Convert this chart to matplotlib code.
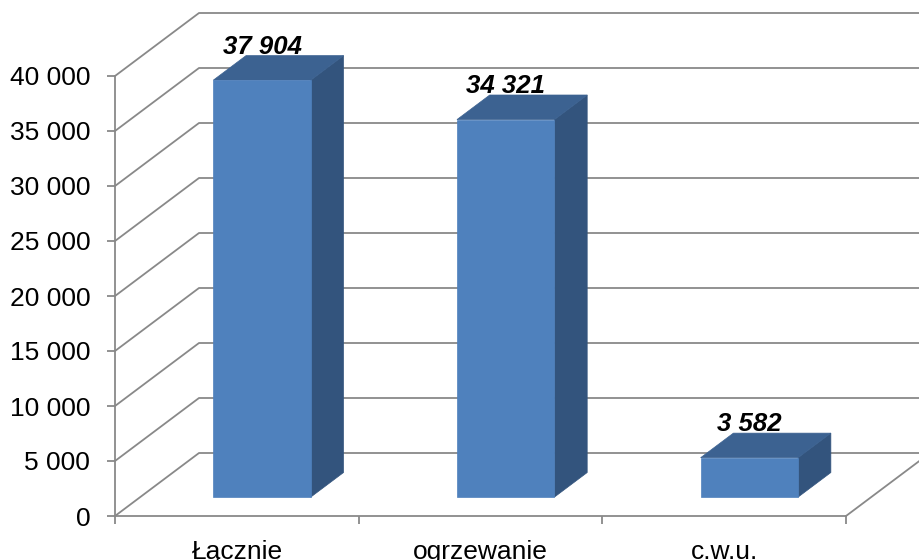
import matplotlib
matplotlib.use('Agg')
import matplotlib.pyplot as plt
from matplotlib.patches import Polygon
from matplotlib.lines import Line2D
from matplotlib.transforms import IdentityTransform
import numpy as np

categories = ['Łącznie', 'ogrzewanie', 'c.w.u.']
values = [37904, 34321, 3582]
y_ticks = [0, 5000, 10000, 15000, 20000, 25000, 30000, 35000, 40000]


def fmt(v):
    return f"{v:,}".replace(",", " ")


plt.rcParams['font.family'] = ['Liberation Sans', 'DejaVu Sans']

W, H = 920, 560
fig = plt.figure(figsize=(W / 100, H / 100), dpi=100)
ax = fig.add_axes([115 / W, 44 / H, 731 / W, 440 / H])
ax.set_xlim(-0.5, len(categories) - 0.5)
ax.set_ylim(0, 40000)
ax.patch.set_visible(False)

GRID = '#898989'
LW = 1.3
DX, DY = 84, 63          # full depth offset in pixels
D0, D1 = 0.30, 0.69      # bar depth span
BW = 0.40                # bar width in category units

FRONT = '#4f81bd'
TOP = '#3c6291'
SIDE = '#33547d'


def proj(x, v, d):
    px, py = ax.transData.transform((x, v))
    return (px + d * DX, py + d * DY)


ident = IdentityTransform()
xmin, xmax = ax.get_xlim()

# walls / gridlines
for v in y_ticks:
    p0 = proj(xmin, v, 0)
    p1 = proj(xmin, v, 1)
    p2 = proj(xmax, v, 1)
    fig.add_artist(Line2D([p0[0], p1[0], p2[0]], [p0[1], p1[1], p2[1]],
                          color=GRID, lw=LW, transform=ident, zorder=1))
# right floor edge
q0 = proj(xmax, 0, 0)
q1 = proj(xmax, 0, 1)
fig.add_artist(Line2D([q0[0], q1[0]], [q0[1], q1[1]], color=GRID, lw=LW,
                      transform=ident, zorder=1))

# bars
for i, v in enumerate(values):
    xl, xr = i - BW / 2, i + BW / 2
    front = [proj(xl, 0, D0), proj(xr, 0, D0), proj(xr, v, D0), proj(xl, v, D0)]
    top = [proj(xl, v, D0), proj(xr, v, D0), proj(xr, v, D1), proj(xl, v, D1)]
    side = [proj(xr, 0, D0), proj(xr, 0, D1), proj(xr, v, D1), proj(xr, v, D0)]
    for pts, c in ((side, SIDE), (top, TOP), (front, FRONT)):
        fig.add_artist(Polygon(pts, closed=True, facecolor=c, edgecolor=c,
                               lw=0.5, transform=ident, zorder=3))
    lx = proj(i, v, D0)[0]
    ly = proj(i, v, D1)[1] + 2
    fig.text(lx / W, ly / H, fmt(v), ha='center', va='baseline',
             fontsize=18.5, fontweight='bold', fontstyle='italic',
             color='black', zorder=5)

# axes styling
for s in ('top', 'right'):
    ax.spines[s].set_visible(False)
ax.spines['left'].set_color(GRID)
ax.spines['bottom'].set_color(GRID)
ax.spines['left'].set_linewidth(LW)
ax.spines['bottom'].set_linewidth(LW)

ax.set_yticks(y_ticks)
ax.set_yticklabels([fmt(t) for t in y_ticks])
ax.tick_params(axis='y', length=5.8, width=LW, color=GRID, pad=12,
               labelsize=19, labelcolor='black')

ax.set_xticks(np.arange(len(categories) + 1) - 0.5)
ax.set_xticklabels([])
ax.set_xticks(np.arange(len(categories)), minor=True)
ax.set_xticklabels(categories, minor=True)
ax.tick_params(axis='x', which='major', length=5.8, width=LW, color=GRID)
ax.tick_params(axis='x', which='minor', length=0, pad=17, labelsize=19,
               labelcolor='black')

fig.savefig('out.png', dpi=100)
